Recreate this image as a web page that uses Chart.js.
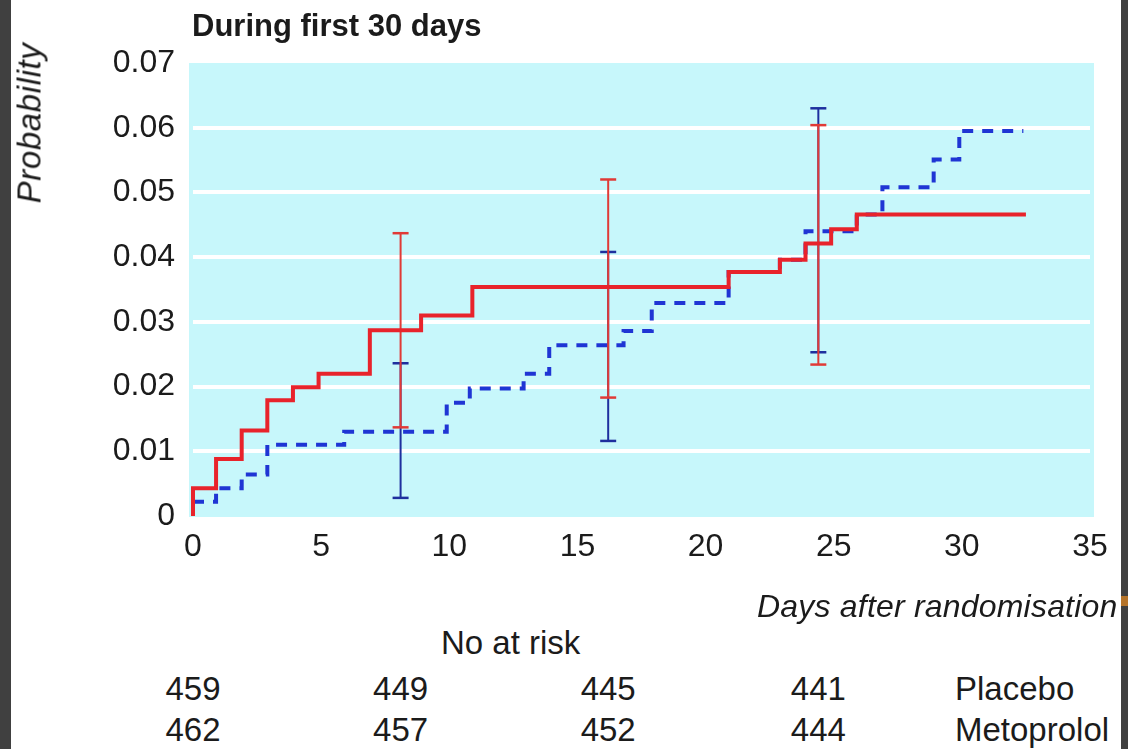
<!DOCTYPE html>
<html>
<head>
<meta charset="utf-8">
<script src="https://cdn.jsdelivr.net/npm/chart.js@4.4.0/dist/chart.umd.min.js"></script>
<style>
  html, body { margin: 0; padding: 0; }
  body {
    width: 1128px; height: 749px; position: relative; overflow: hidden; background: #fff;
    font-family: 'Liberation Sans', Arial, sans-serif; color: #1b1b1b;
  }
  .edge { position: absolute; top: 0; bottom: 0; background: #404040; }
  #wrap { position: absolute; left: 0; top: 0; width: 1128px; height: 600px; }
  .txt { position: absolute; white-space: nowrap; line-height: 1; }
  #title { left: 192px; top: 10px; font-size: 31px; font-weight: bold; }
  #ylabel { left: 29px; top: 123px; font-size: 33px; font-style: italic; letter-spacing: 0.6px; transform: translate(-50%, -50%) rotate(-90deg); }
  #xlabel { left: 757px; top: 590px; font-size: 32px; font-style: italic; letter-spacing: 0.2px; }
  #riskTitle { left: 441px; top: 626px; font-size: 33px; }
  .num { font-size: 33px; transform: translateX(-50%); }
  .grp { font-size: 33px; left: 955px; }
</style>
</head>
<body>
<div id="wrap"><canvas id="kmChart" width="1128" height="600"></canvas></div>
<div id="title" class="txt">During first 30 days</div>
<div id="ylabel" class="txt">Probability</div>
<div id="xlabel" class="txt">Days after randomisation</div>
<div id="riskTitle" class="txt">No at risk</div>
<div id="riskTable"></div>
<div class="edge" style="left:0;width:11px"></div>
<div class="edge" style="left:1121px;width:7px"></div>
<div style="position:absolute;left:1121px;top:596px;width:7px;height:10px;background:#b5742a"></div>
<script>
// cumulative probability, solid red line
const solidDays = [0, 0, 0.9, 1.9, 2.9, 3.9, 4.9, 6.9, 8.9, 10.9, 20.9, 22.9, 23.9, 24.9, 25.9, 32.5];
const solidProb = [0, 0.0043, 0.0088, 0.0132, 0.0179, 0.0199, 0.022, 0.0287, 0.031, 0.0354, 0.0377, 0.0396, 0.0421, 0.0443, 0.0466, 0.0466];

// cumulative probability, dashed blue line
const dashedDays = [0, 0.9, 1.9, 2.9, 5.9, 9.9, 10.8, 12.9, 13.9, 16.8, 17.9, 20.9, 22.9, 23.9, 25.9, 26.9, 28.9, 29.9, 32.4];
const dashedProb = [0.0022, 0.0043, 0.0064, 0.011, 0.013, 0.0175, 0.0197, 0.022, 0.0264, 0.0286, 0.0329, 0.0377, 0.0396, 0.044, 0.0466, 0.0508, 0.0551, 0.0595, 0.0595];

// confidence intervals
const barDays = [8.1, 16.2, 24.4];
const solidLow = [0.0137, 0.0183, 0.0234];
const solidHigh = [0.0437, 0.052, 0.0604];
const dashedLow = [0.0028, 0.0116, 0.0253];
const dashedHigh = [0.0236, 0.0408, 0.063];

// axes
const xTicks = [0, 5, 10, 15, 20, 25, 30, 35];
const yTicks = [0, 0.01, 0.02, 0.03, 0.04, 0.05, 0.06, 0.07];
const yTickLabels = ['0', '0.01', '0.02', '0.03', '0.04', '0.05', '0.06', '0.07'];

// number at risk
const riskDays = [0, 8.1, 16.2, 24.4];
const riskGroups = ['Placebo', 'Metoprolol'];
const placeboAtRisk = [459, 449, 445, 441];
const metoprololAtRisk = [462, 457, 452, 444];

const RED = '#e8232b';
const RED_BAR = '#e03a36';
const BLUE = '#1f35d4';
const BLUE_BAR = '#1e2f9e';
const FONT = "'Liberation Sans', Arial, sans-serif";

const toPoints = (xs, ys) => xs.map((x, i) => ({ x: x, y: ys[i] }));

const errorBar = (day, low, high, color) => ({
    data: [{ x: day, y: low }, { x: day, y: high }],
    borderColor: color,
    borderWidth: 2,
    pointStyle: 'line',
    pointRadius: 8,
    pointBorderWidth: 2.5,
    pointBorderColor: color,
    clip: false
});

// light cyan plot background
const plotBg = {
    id: 'plotBg',
    beforeDraw(chart) {
        const { ctx, chartArea: a } = chart;
        ctx.save();
        ctx.fillStyle = '#c7f7fb';
        ctx.fillRect(a.left - 4, a.top, a.right - a.left + 8, a.bottom - a.top + 1);
        ctx.restore();
    }
};

const datasets = [
    {
        label: 'solid',
        data: toPoints(solidDays, solidProb),
        borderColor: RED,
        borderWidth: 4,
        stepped: true,
        pointRadius: 0,
        fill: false,
        clip: false
    },
    ...barDays.map((d, i) => errorBar(d, solidLow[i], solidHigh[i], RED_BAR)),
    ...barDays.map((d, i) => errorBar(d, dashedLow[i], dashedHigh[i], BLUE_BAR)),
    {
        label: 'dashed',
        data: toPoints(dashedDays, dashedProb),
        borderColor: BLUE,
        borderWidth: 4,
        borderDash: [11, 9],
        stepped: true,
        pointRadius: 0,
        fill: false,
        clip: false
    }
];

const chart = new Chart(document.getElementById('kmChart').getContext('2d'), {
    type: 'line',
    data: { datasets: datasets },
    options: {
        responsive: false,
        animation: false,
        layout: { padding: { top: 63, right: 38, left: 0, bottom: 0 } },
        plugins: { legend: { display: false }, tooltip: { enabled: false } },
        scales: {
            x: {
                type: 'linear',
                min: 0,
                max: 35,
                afterBuildTicks: (s) => { s.ticks = xTicks.map(v => ({ value: v })); },
                afterFit: (s) => { s.height = 84; },
                grid: { display: false },
                border: { display: false },
                ticks: { color: '#1b1b1b', font: { family: FONT, size: 32 }, padding: 4, maxRotation: 0 }
            },
            y: {
                min: 0,
                max: 0.07,
                afterBuildTicks: (s) => { s.ticks = yTicks.map(v => ({ value: v })); },
                afterFit: (s) => { s.width = 193; },
                grid: {
                    drawTicks: false,
                    lineWidth: 4,
                    color: (c) => (c.index === 0 || c.index === yTicks.length - 1) ? 'rgba(0,0,0,0)' : '#ffffff'
                },
                border: { display: false },
                ticks: {
                    color: '#1b1b1b',
                    font: { family: FONT, size: 32 },
                    padding: 18,
                    callback: (v, i) => yTickLabels[i]
                }
            }
        }
    },
    plugins: [plotBg]
});

// number-at-risk table, columns placed under the matching days
const table = document.getElementById('riskTable');
const rows = [placeboAtRisk, metoprololAtRisk];
const rowTops = [672, 713];
rows.forEach((row, r) => {
    row.forEach((n, i) => {
        const el = document.createElement('div');
        el.className = 'txt num';
        el.textContent = n;
        el.style.left = chart.scales.x.getPixelForValue(riskDays[i]) + 'px';
        el.style.top = rowTops[r] + 'px';
        table.appendChild(el);
    });
    const g = document.createElement('div');
    g.className = 'txt grp';
    g.textContent = riskGroups[r];
    g.style.top = rowTops[r] + 'px';
    table.appendChild(g);
});
</script>
</body>
</html>
